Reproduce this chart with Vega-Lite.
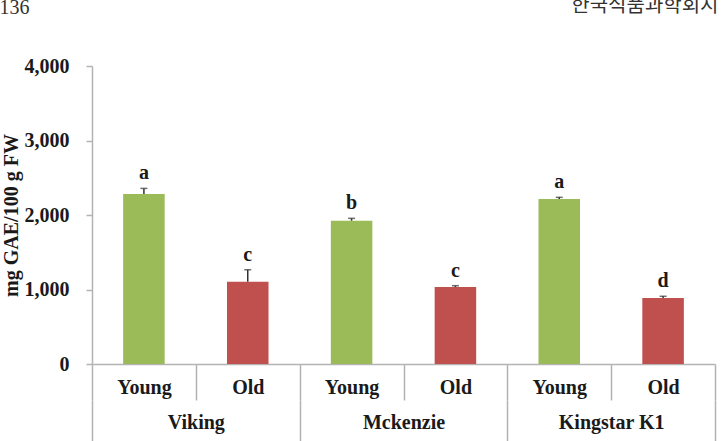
{
  "$schema": "https://vega.github.io/schema/vega-lite/v6.json",
  "autosize": "none",
  "width": 623,
  "height": 298,
  "padding": {"left": 92, "top": 66, "right": 6, "bottom": 77},
  "background": "white",
  "config": {"view": {"stroke": null}},
  "data": {
    "values": [
      {"variety": "Viking", "age": "Young", "key": "Viking|Young", "value": 2282, "err": 75, "letter": "a"},
      {"variety": "Viking", "age": "Old", "key": "Viking|Old", "value": 1105, "err": 160, "letter": "c"},
      {"variety": "Mckenzie", "age": "Young", "key": "Mckenzie|Young", "value": 1923, "err": 32, "letter": "b"},
      {"variety": "Mckenzie", "age": "Old", "key": "Mckenzie|Old", "value": 1034, "err": 17, "letter": "c"},
      {"variety": "Kingstar K1", "age": "Young", "key": "Kingstar K1|Young", "value": 2215, "err": 22, "letter": "a"},
      {"variety": "Kingstar K1", "age": "Old", "key": "Kingstar K1|Old", "value": 886, "err": 23, "letter": "d"}
    ]
  },
  "transform": [{"calculate": "datum.value + datum.err", "as": "upper"}],
  "layer": [
    {
      "encoding": {
        "x": {
          "field": "key",
          "type": "nominal",
          "sort": null,
          "scale": {"paddingInner": 0, "paddingOuter": 0},
          "axis": {
            "title": null,
            "orient": "bottom",
            "labelExpr": "split(datum.label, '|')[1]",
            "labelAngle": 0,
            "labelFont": "Liberation Serif",
            "labelFontWeight": "bold",
            "labelFontSize": 20,
            "labelColor": "#1a1a1a",
            "labelBaseline": "middle",
            "labelPadding": -13,
            "tickBand": "extent",
            "tickSize": 36,
            "tickColor": "#B3B3B3",
            "tickWidth": 1.5,
            "domainColor": "#B3B3B3",
            "domainWidth": 1.5
          }
        }
      },
      "layer": [
        {
          "mark": {"type": "bar", "width": {"band": 0.4}},
          "encoding": {
            "y": {
              "field": "value",
              "type": "quantitative",
              "scale": {"domain": [0, 4000], "nice": false},
              "axis": {
                "title": "mg GAE/100 g FW",
                "values": [0, 1000, 2000, 3000, 4000],
                "format": ",.0f",
                "grid": false,
                "labelFont": "Liberation Serif",
                "labelFontWeight": "bold",
                "labelFontSize": 20,
                "labelColor": "#1a1a1a",
                "labelPadding": 17,
                "tickSize": 6,
                "tickColor": "#B3B3B3",
                "tickWidth": 1.5,
                "domainColor": "#B3B3B3",
                "domainWidth": 1.5,
                "titleFont": "Liberation Serif",
                "titleFontWeight": "bold",
                "titleFontSize": 20,
                "titleColor": "#1a1a1a",
                "titlePadding": 3
              }
            },
            "color": {
              "field": "age",
              "type": "nominal",
              "scale": {"domain": ["Young", "Old"], "range": ["#9BBB59", "#C0504D"]},
              "legend": null
            }
          }
        },
        {
          "mark": {"type": "rule", "color": "#333333", "strokeWidth": 1.5},
          "encoding": {
            "y": {"field": "value", "type": "quantitative"},
            "y2": {"field": "upper"}
          }
        },
        {
          "mark": {"type": "tick", "color": "#333333", "thickness": 1.5, "size": 7},
          "encoding": {
            "y": {"field": "upper", "type": "quantitative"}
          }
        },
        {
          "mark": {
            "type": "text",
            "font": "Liberation Serif",
            "fontWeight": "bold",
            "fontSize": 20,
            "color": "#1a1a1a",
            "baseline": "alphabetic",
            "dy": -9
          },
          "encoding": {
            "y": {"field": "upper", "type": "quantitative"},
            "text": {"field": "letter"}
          }
        }
      ]
    },
    {
      "mark": {"type": "point", "opacity": 0},
      "encoding": {
        "x": {
          "field": "variety",
          "type": "nominal",
          "sort": null,
          "scale": {"domain": ["Viking", "Mckenzie", "Kingstar K1"], "paddingInner": 0, "paddingOuter": 0},
          "axis": {
            "title": null,
            "orient": "bottom",
            "offset": 36,
            "domain": false,
            "labelAngle": 0,
            "labelFont": "Liberation Serif",
            "labelFontWeight": "bold",
            "labelFontSize": 20,
            "labelColor": "#1a1a1a",
            "labelBaseline": "middle",
            "labelPadding": -38,
            "tickBand": "extent",
            "tickSize": 60,
            "tickColor": "#B3B3B3",
            "tickWidth": 1.5
          }
        }
      }
    },
    {
      "mark": {"type": "point", "opacity": 0},
      "encoding": {
        "x": {
          "field": "variety",
          "type": "nominal",
          "sort": null,
          "axis": {
            "orient": "top",
            "title": "한국식품과학회지",
            "titleFont": "Noto Sans CJK KR",
            "titleFontWeight": "normal",
            "titleFontSize": 20,
            "titleColor": "#333333",
            "titleAnchor": "end",
            "titleBaseline": "alphabetic",
            "titleY": -55,
            "titleX": 626,
            "labels": false,
            "ticks": false,
            "domain": false
          }
        }
      }
    },
    {
      "mark": {"type": "point", "opacity": 0},
      "encoding": {
        "x": {
          "field": "age",
          "type": "nominal",
          "sort": null,
          "axis": {
            "orient": "top",
            "title": "136",
            "titleFont": "Liberation Serif",
            "titleFontWeight": "normal",
            "titleFontSize": 20,
            "titleColor": "#333333",
            "titleAnchor": "start",
            "titleAlign": "left",
            "titleBaseline": "alphabetic",
            "titleY": -53,
            "titleX": -93,
            "labels": false,
            "ticks": false,
            "domain": false
          }
        }
      }
    }
  ],
  "resolve": {"scale": {"x": "independent"}, "axis": {"x": "independent"}}
}
